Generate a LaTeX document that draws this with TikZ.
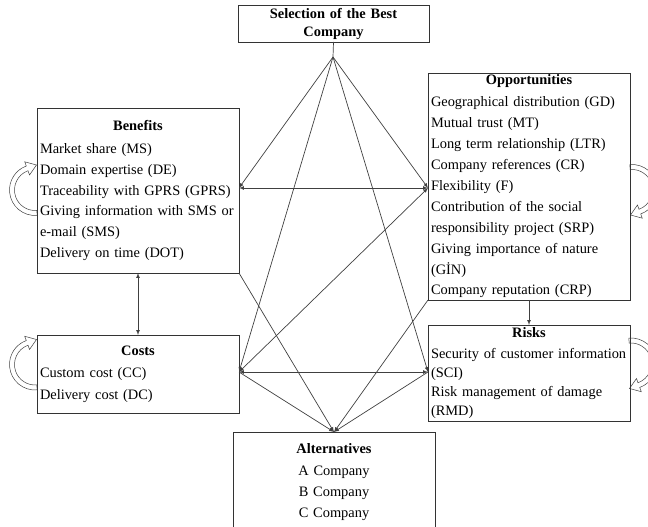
\documentclass[tikz,border=0pt]{standalone}
\usepackage{fontspec}
\setmainfont{Liberation Serif}
\usetikzlibrary{arrows, positioning}

\begin{document}
\begin{tikzpicture}[x=1pt, y=1pt, node distance=25pt,
    font=\fontsize{14.4}{20.8}\selectfont,
    selfloop/.pic={
        \draw[fill=white, line width=0.5pt, draw=black!75]
            (275:25.5) arc[start angle=275, end angle=110, radius=25.5]
            -- (110:30) -- (1.5,25) -- (110:16) -- (110:20.5)
            arc[start angle=110, end angle=275, radius=20.5] -- cycle;
    }]
\tikzset{every node/.style={outer sep=0pt}}

\tikzstyle{box}=[rectangle, draw=black!80, line width=0.8pt, text width=196pt, inner xsep=3pt, inner ysep=1pt, align=left]
\tikzstyle{headbox}=[box, text width=185pt, align=center, font=\bfseries\fontsize{14.4}{18}\selectfont]
\tikzstyle{post}=[->, >=latex, line width=0.7pt, draw=black!75]
\tikzstyle{twoway}=[<->, >=latex, line width=0.7pt, draw=black!75]
\tikzstyle{stub}=[line width=0.7pt, draw=black!75]

\useasboundingbox (0,0) rectangle (648,527);

% self loops
\pic at (35,337) {selfloop};
\pic at (35,162.5) {selfloop};
\pic[rotate=180] at (632,337) {selfloop};
\pic[rotate=180] at (631,163.5) {selfloop};

\node[headbox, minimum height=37pt] (best) at (333.5,503.5) {Selection of the Best\\ Company};

\node[box, minimum height=165pt] (benefits) at (138,336.5) {\hfill\textbf{Benefits}\hfill\null\\[2pt]
    Market share (MS)\\
    Domain expertise (DE)\\
    Traceability with GPRS (GPRS)\\
    Giving information with SMS or\\
    e-mail (SMS)\\
    Delivery on time (DOT)};

\node[box, minimum height=78pt, below=62pt of benefits, font=\fontsize{14.4}{22}\selectfont] (costs) {\hfill\textbf{Costs}\hfill\null\\
    Custom cost (CC)\\
    Delivery cost (DC)};

\node[box, minimum height=227pt, font=\fontsize{14.4}{20.9}\selectfont] (opport) at (529,340.5) {\hfill\textbf{Opportunities}\hfill\null\\[1pt]
    Geographical distribution (GD)\\
    Mutual trust (MT)\\
    Long term relationship (LTR)\\
    Company references (CR)\\
    Flexibility (F)\\
    Contribution of the social\\
    responsibility project (SRP)\\
    Giving importance of nature\\
    (GİN)\\
    Company reputation (CRP)};

\node[box, minimum height=96pt, below=of opport, font=\fontsize{14.4}{19}\selectfont] (risks) {\hfill\textbf{Risks}\hfill\null\\[2pt]
    Security of customer information\\
    (SCI)\\
    Risk management of damage\\
    (RMD)};

\node[box, minimum height=100pt, align=center] (altern) at (334,45) {\textbf{Alternatives}\\[1pt]
    A Company\\
    B Company\\
    C Company};

\coordinate (fork) at (333,470);
\coordinate (upper link) at (0,339);
\coordinate (lower link) at (0,155);

\draw[stub] (best.south) -- (fork);
\draw[post] (fork) -- (benefits.east |- upper link);
\draw[post] (fork) -- (opport.west |- upper link);
\draw[post] (fork) -- (costs.east |- lower link);
\draw[post] (fork) -- (risks.west |- lower link);

\draw[twoway] (benefits.east |- upper link) -- (opport.west |- upper link);
\draw[twoway] (costs.east |- lower link) -- (risks.west |- lower link);
\draw[twoway] (opport.west |- upper link) -- (costs.east |- lower link);
\draw[twoway] (benefits.south) -- (costs.north);
\draw[post] (opport.south) -- (risks.north);

\draw[post] (benefits.south east) -- (altern.north);
\draw[post] (costs.east |- lower link) -- (altern.north);
\draw[post] (opport.south west) -- (altern.north);
\draw[post] (risks.west |- lower link) -- (altern.north);

\end{tikzpicture}
\end{document}
